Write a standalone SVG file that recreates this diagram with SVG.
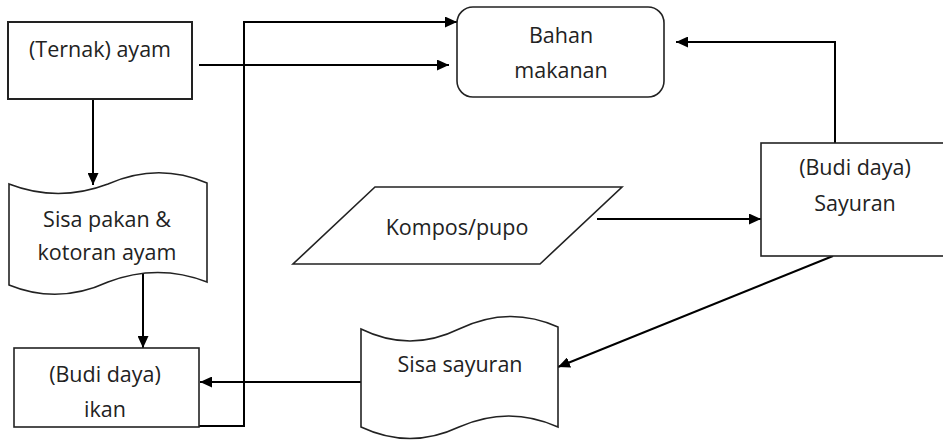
<svg xmlns="http://www.w3.org/2000/svg" width="943" height="440" viewBox="0 0 943 440">
<style>
.shape{fill:#fff;stroke:#222;stroke-width:1.6}
.lbl{font-family:"Open Sans","Liberation Sans",sans-serif;font-size:21.5px;fill:#222;text-anchor:middle}
.con{fill:none;stroke:#000;stroke-width:2}
</style>
<defs>
<marker id="arr" markerUnits="userSpaceOnUse" markerWidth="13" markerHeight="11" refX="12" refY="5.5" orient="auto">
<path d="M0,0 L12,5.5 L0,11 z" fill="#000"/>
</marker>
</defs>
<rect width="943" height="440" fill="#fff"/>
<g id="connectors">
<line class="con" x1="199" y1="65" x2="449" y2="65" marker-end="url(#arr)"/>
<line class="con" x1="93" y1="99" x2="93" y2="185" marker-end="url(#arr)"/>
<line class="con" x1="143" y1="272" x2="143" y2="348" marker-end="url(#arr)"/>
<polyline class="con" points="199,426 244,426 244,22 457,22" marker-end="url(#arr)"/>
<line class="con" x1="361" y1="382" x2="200" y2="382" marker-end="url(#arr)"/>
<polyline class="con" points="835,143 835,42 676,42" marker-end="url(#arr)"/>
<line class="con" x1="597" y1="219" x2="761" y2="219" marker-end="url(#arr)"/>
<line class="con" x1="833" y1="256" x2="558" y2="367" marker-end="url(#arr)"/>
</g>
<g id="ternak">
<rect class="shape" x="8" y="22" width="184" height="77" style="stroke-width:2"/>
<text class="lbl" x="100" y="57">(Ternak) ayam</text>
</g>
<g id="bahan">
<rect class="shape" x="457" y="7" width="207" height="90" rx="16"/>
<text class="lbl" x="561" y="43">Bahan</text>
<text class="lbl" x="561" y="78">makanan</text>
</g>
<g id="sisapakan">
<path class="shape" d="M9,184 Q58,203 108,184 Q158,162 207,183 L207,282 Q158,263 108,282 Q58,305 9,285 Z"/>
<text class="lbl" x="107" y="227">Sisa pakan &amp;</text>
<text class="lbl" x="107" y="260">kotoran ayam</text>
</g>
<g id="ikan">
<rect class="shape" x="14" y="348" width="185" height="79"/>
<text class="lbl" x="105" y="382">(Budi daya)</text>
<text class="lbl" x="105" y="417">ikan</text>
</g>
<g id="kompos">
<polygon class="shape" points="375,187 622,187 540,264 293,264"/>
<text class="lbl" x="457" y="235">Kompos/pupo</text>
</g>
<g id="sayuran">
<rect class="shape" x="761" y="143" width="190" height="113"/>
<text class="lbl" x="855" y="175">(Budi daya)</text>
<text class="lbl" x="855" y="211">Sayuran</text>
</g>
<g id="sisasayuran">
<path class="shape" d="M361,329 Q410,353 459,329 Q509,305 558,327 L558,427 Q509,405 459,427 Q410,450 361,427 Z"/>
<text class="lbl" x="460" y="372">Sisa sayuran</text>
</g>
</svg>
